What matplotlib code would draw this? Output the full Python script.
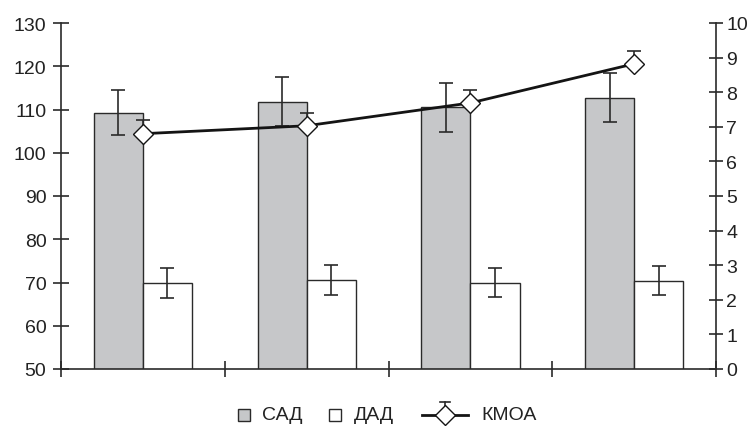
import numpy as np
import matplotlib
matplotlib.use("Agg")
import matplotlib.pyplot as plt
from matplotlib.patches import Rectangle
from matplotlib.lines import Line2D

plt.rcParams['font.family'] = ['Liberation Sans', 'DejaVu Sans']

groups = ["1", "2", "3", "4"]
sad = [109.2, 111.8, 110.5, 112.7]
sad_err = [5.2, 5.7, 5.7, 5.7]
dad = [69.9, 70.6, 70.0, 70.4]
dad_err = [3.5, 3.4, 3.4, 3.4]
kmoa = [6.8, 7.03, 7.69, 8.82]
kmoa_err = [0.4, 0.38, 0.38, 0.36]
legend_labels = ["САД", "ДАД", "КМОА"]
left_ticks = [50, 60, 70, 80, 90, 100, 110, 120, 130]
right_ticks = list(range(0, 11))

W, H = 756, 427
FS = 14
fig = plt.figure(figsize=(W / 100, H / 100), dpi=100)
ax = fig.add_axes([61 / W, 1 - 370 / H, (716 - 61) / W, (370 - 24) / H])
ax2 = ax.twinx()

ec = "#2a2a2a"
gray = "#c6c7c9"
tc = "#222222"
x = np.arange(len(groups))
bw = 0.3
ax.bar(x - bw / 2, sad, bw, color=gray, edgecolor=ec, linewidth=1.0, zorder=2)
ax.bar(x + bw / 2, dad, bw, color="white", edgecolor=ec, linewidth=1.0, zorder=2)
ax.errorbar(x - bw / 2, sad, yerr=sad_err, fmt="none", ecolor=ec, elinewidth=1.2,
            capsize=5, capthick=1.2, zorder=3)
ax.errorbar(x + bw / 2, dad, yerr=dad_err, fmt="none", ecolor=ec, elinewidth=1.2,
            capsize=5, capthick=1.2, zorder=3)

ax2.errorbar(x, kmoa, yerr=[[0] * len(kmoa), kmoa_err], fmt="none", ecolor=ec,
             elinewidth=1.2, capsize=5, capthick=1.2, zorder=3)
ax2.plot(x, kmoa, color="#141414", linewidth=2.0, marker="D", markersize=10,
         markerfacecolor="white", markeredgecolor="#141414", markeredgewidth=1.0,
         zorder=4)

ax.set_xlim(-0.5, len(groups) - 0.5)
ax.set_ylim(50, 130)
ax2.set_ylim(0, 10)
ax.set_yticks(left_ticks)
ax2.set_yticks(right_ticks)
ax.set_xticks(np.arange(-0.5, len(groups), 1.0))
ax.set_xticklabels([])

for a in (ax, ax2):
    a.spines['top'].set_visible(False)
    for s in a.spines.values():
        s.set_color(ec)
        s.set_linewidth(1.2)
ax.spines['right'].set_visible(False)
ax2.spines['left'].set_visible(False)
ax2.spines['bottom'].set_visible(False)

ax.tick_params(axis='y', direction='inout', length=11, width=1.2, color=ec,
               labelsize=FS, labelcolor=tc, pad=5)
ax.tick_params(axis='x', direction='inout', length=11, width=1.2, color=ec)
ax2.tick_params(axis='y', direction='inout', length=10, width=1.2, color=ec,
                labelsize=FS, labelcolor=tc, pad=2.5)

# manual legend (figure pixel coordinates)
def fx(px):
    return px / W

def fy(py):
    return 1 - py / H

yc = 416
fig.patches.append(Rectangle((fx(238), fy(yc + 6)), 12 / W, 12 / H, transform=fig.transFigure,
                             facecolor=gray, edgecolor=ec, linewidth=1.0))
fig.text(fx(262), fy(yc), legend_labels[0], fontsize=FS, color=tc, va="center", ha="left")
fig.patches.append(Rectangle((fx(329), fy(yc + 6)), 12 / W, 12 / H, transform=fig.transFigure,
                             facecolor="white", edgecolor=ec, linewidth=1.0))
fig.text(fx(354), fy(yc), legend_labels[1], fontsize=FS, color=tc, va="center", ha="left")
fig.lines.append(Line2D([fx(422), fx(468)], [fy(yc), fy(yc)], transform=fig.transFigure,
                        color="#141414", linewidth=2.0))
fig.lines.append(Line2D([fx(445), fx(445)], [fy(yc - 6), fy(yc - 13)], transform=fig.transFigure,
                        color=ec, linewidth=1.2))
fig.lines.append(Line2D([fx(440), fx(450)], [fy(yc - 13), fy(yc - 13)], transform=fig.transFigure,
                        color=ec, linewidth=1.2))
fig.lines.append(Line2D([fx(445)], [fy(yc)], transform=fig.transFigure, marker="D",
                        markersize=10, markerfacecolor="white", markeredgecolor="#141414",
                        markeredgewidth=1.0, linestyle="none"))
fig.text(fx(481), fy(yc), legend_labels[2], fontsize=FS, color=tc, va="center", ha="left")

fig.savefig("out.png", dpi=100)
